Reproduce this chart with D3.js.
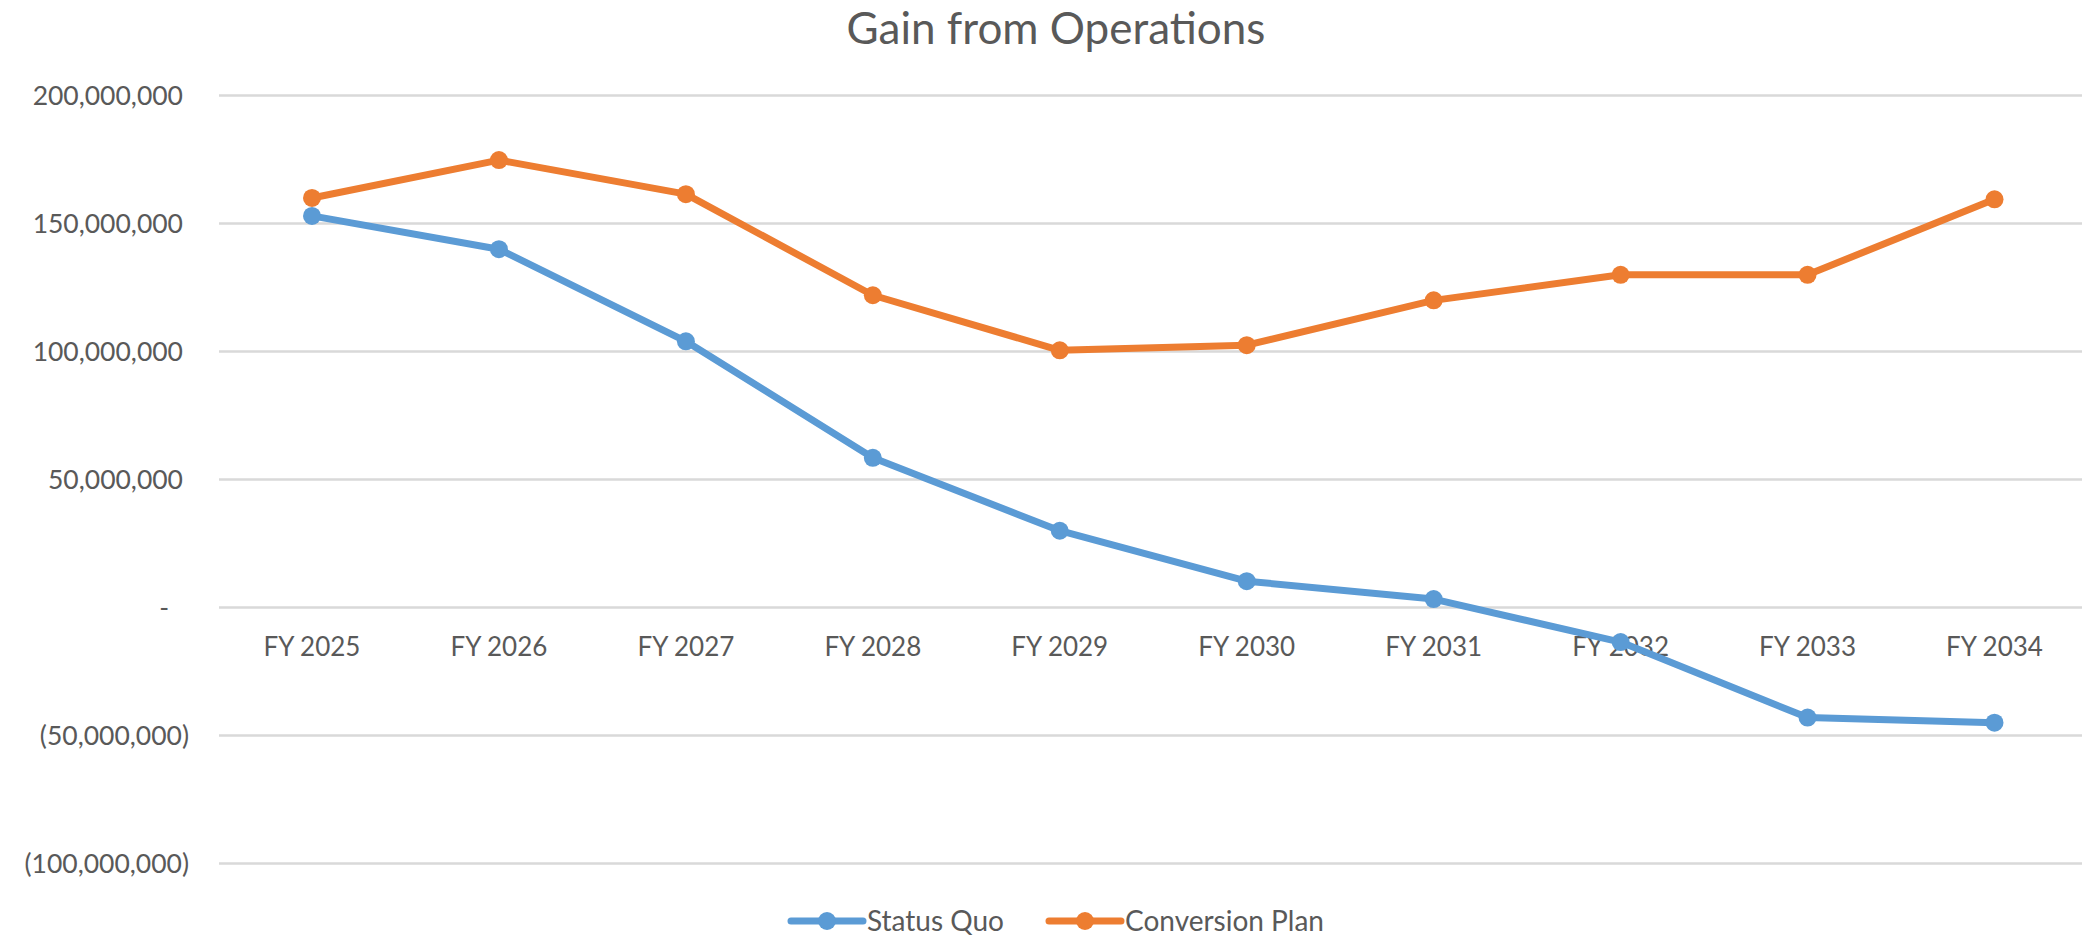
<!DOCTYPE html>
<html>
<head>
<meta charset="utf-8">
<script src="https://cdn.jsdelivr.net/npm/d3@7"></script>
<style>
  html, body { margin: 0; padding: 0; background: #fff; }
  svg text { font-family: Lato, "Open Sans", sans-serif; fill: #595959; }
</style>
</head>
<body>
<svg id="chart" width="2082" height="939"></svg>
<script>
const years = ['FY 2025', 'FY 2026', 'FY 2027', 'FY 2028', 'FY 2029',
               'FY 2030', 'FY 2031', 'FY 2032', 'FY 2033', 'FY 2034'];

const statusQuo = [153000000, 140000000, 104000000, 58500000, 30000000,
                   10300000, 3300000, -13500000, -43000000, -45000000];

const conversionPlan = [160000000, 174800000, 161500000, 122000000, 100500000,
                        102500000, 120000000, 130000000, 130000000, 159500000];

const yTicks = [200000000, 150000000, 100000000, 50000000, 0, -50000000, -100000000];

const seriesNames = ['Status Quo', 'Conversion Plan'];
const seriesColors = ['#5B9BD5', '#ED7D31'];

const svg = d3.select('#chart');
const W = 2082;

const x = d3.scalePoint()
    .domain(years)
    .range([312, 1994.5]);

const y = d3.scaleLinear()
    .domain([-100000000, 200000000])
    .range([863.5, 95.6]);

// title
svg.append('text')
    .attr('x', 1056)
    .attr('y', 44)
    .attr('text-anchor', 'middle')
    .style('font-size', '44px')
    .text('Gain from Operations');

// gridlines
svg.append('g')
    .selectAll('line')
    .data(yTicks)
    .join('line')
    .attr('x1', 219).attr('x2', W)
    .attr('y1', d => y(d)).attr('y2', d => y(d))
    .attr('stroke', '#D9D9D9')
    .attr('stroke-width', 2.5);

// y labels, accounting style
const fmt = d3.format(',');
svg.append('g')
    .selectAll('text')
    .data(yTicks)
    .join('text')
    .attr('x', 189)
    .attr('dx', d => d === 0 ? -20 : (d > 0 ? -6 : 0))
    .attr('y', d => y(d))
    .attr('dy', '0.35em')
    .attr('text-anchor', 'end')
    .style('font-size', '26.5px')
    .text(d => d === 0 ? '-' : (d < 0 ? `(${fmt(-d)})` : fmt(d)));

// x labels
svg.append('g')
    .selectAll('text')
    .data(years)
    .join('text')
    .attr('x', d => x(d))
    .attr('y', y(0) + 39)
    .attr('dy', '0.35em')
    .attr('text-anchor', 'middle')
    .style('font-size', '26px')
    .text(d => d);

const series = [statusQuo, conversionPlan];
const line = d3.line()
    .x((d, i) => x(years[i]))
    .y(d => y(d));

series.forEach((vals, k) => {
    const g = svg.append('g');
    g.append('path')
        .datum(vals)
        .attr('d', line)
        .attr('fill', 'none')
        .attr('stroke', seriesColors[k])
        .attr('stroke-width', 7)
        .attr('stroke-linejoin', 'round')
        .attr('stroke-linecap', 'round');
    g.selectAll('circle')
        .data(vals)
        .join('circle')
        .attr('cx', (d, i) => x(years[i]))
        .attr('cy', d => y(d))
        .attr('r', 9)
        .attr('fill', seriesColors[k]);
});

// legend (kept clear of the bottom edge)
const legendX = [791, 1049];
const legendY = 921;
const leg = svg.append('g')
    .selectAll('g')
    .data(seriesNames)
    .join('g')
    .attr('transform', (d, i) => `translate(${legendX[i]},${legendY})`);
leg.append('line')
    .attr('x1', 0).attr('x2', 72)
    .attr('stroke', (d, i) => seriesColors[i])
    .attr('stroke-width', 7)
    .attr('stroke-linecap', 'round');
leg.append('circle')
    .attr('cx', 36)
    .attr('r', 9)
    .attr('fill', (d, i) => seriesColors[i]);
leg.append('text')
    .attr('x', 76)
    .attr('dy', '0.35em')
    .style('font-size', '28px')
    .text(d => d);
</script>
</body>
</html>
